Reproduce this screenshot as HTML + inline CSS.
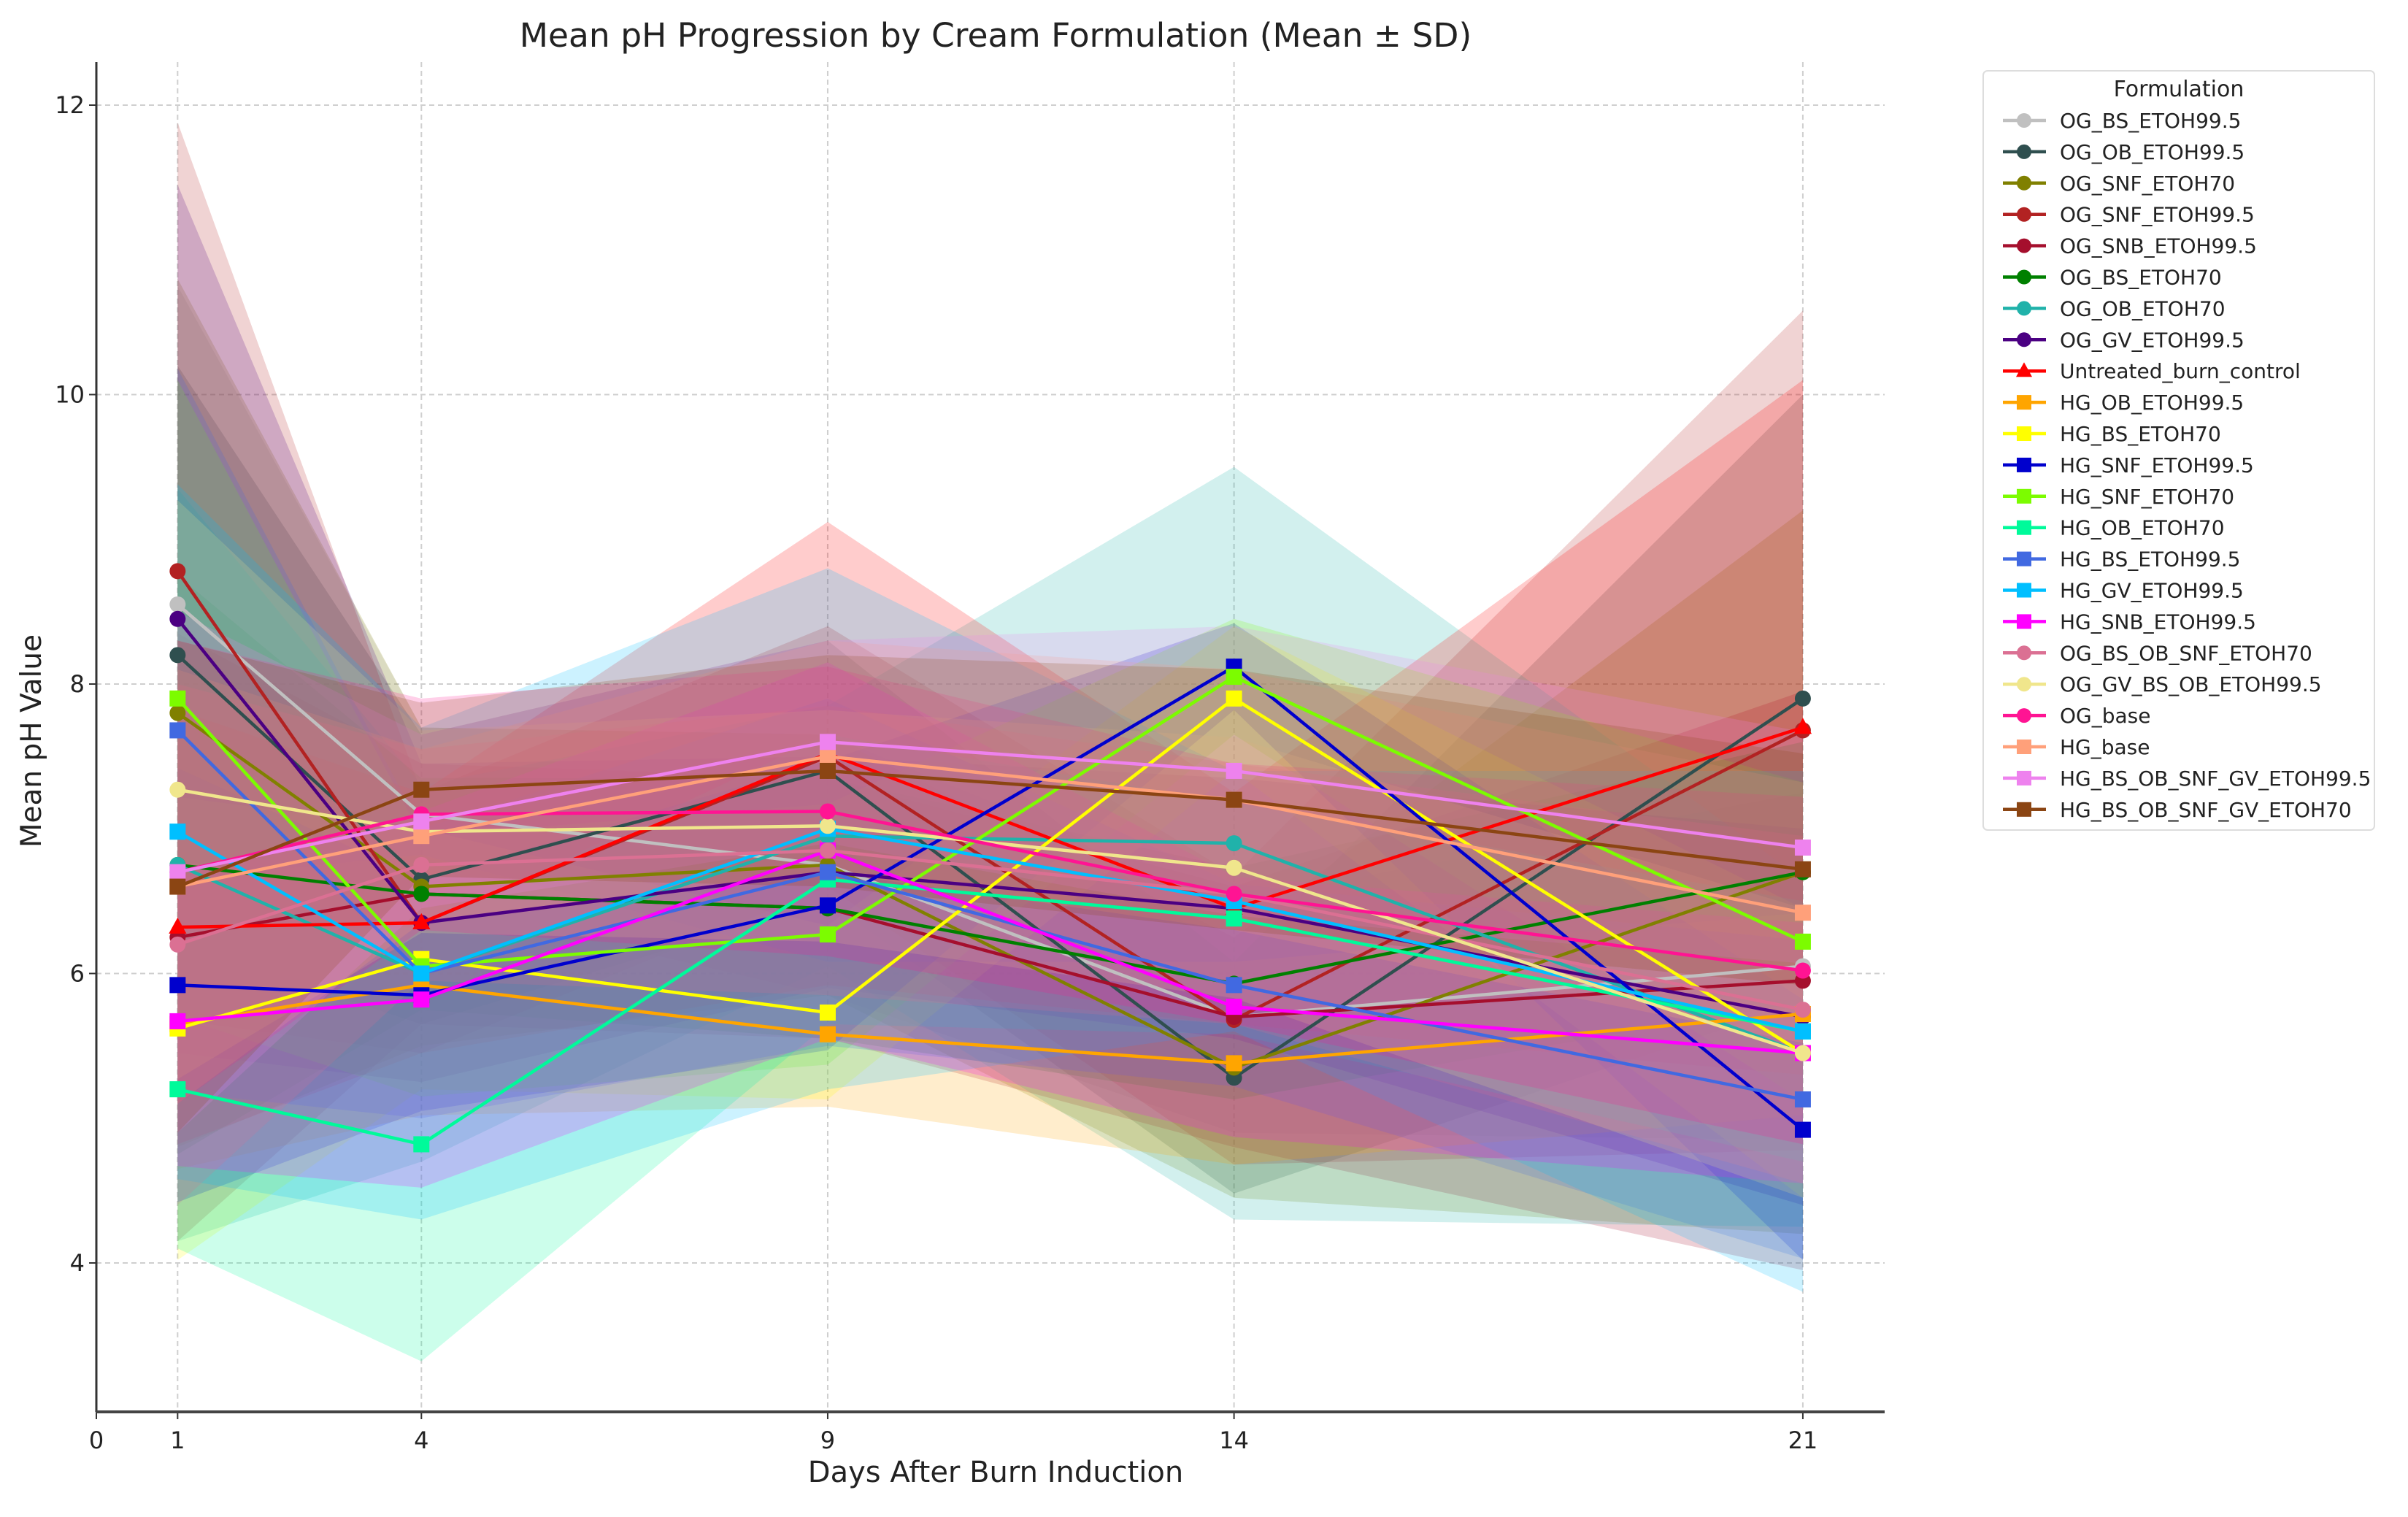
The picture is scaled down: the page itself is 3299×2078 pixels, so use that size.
<!DOCTYPE html>
<html><head><meta charset="utf-8">
<style>
html,body{margin:0;padding:0;background:#fff;}
svg{display:block;font-family:"DejaVu Sans","Liberation Sans",sans-serif;}
</style></head>
<body>
<svg id="chart" width="3299" height="2078" viewBox="0 0 3299 2078" xmlns="http://www.w3.org/2000/svg">
<rect width="3299" height="2078" fill="#fff"/>
<g id="grid"></g>
<g id="bands"></g>
<g id="lines"></g>
<g id="axes"></g>
<g id="legend"></g>
<text x="1364" y="64" font-size="45.5" text-anchor="middle" fill="#222">Mean pH Progression by Cream Formulation (Mean ± SD)</text>
<text x="1364" y="2030" font-size="40" text-anchor="middle" fill="#222">Days After Burn Induction</text>
<text x="0" y="0" font-size="39" text-anchor="middle" fill="#222" transform="translate(56,1015) rotate(-90)">Mean pH Value</text>
</svg>
<script>
const days = [1, 4, 9, 14, 21];
const xTicks = [0, 1, 4, 9, 14, 21];
const yTicks = [4, 6, 8, 10, 12];
const names = ["OG_BS_ETOH99.5","OG_OB_ETOH99.5","OG_SNF_ETOH70","OG_SNF_ETOH99.5","OG_SNB_ETOH99.5","OG_BS_ETOH70","OG_OB_ETOH70","OG_GV_ETOH99.5","Untreated_burn_control","HG_OB_ETOH99.5","HG_BS_ETOH70","HG_SNF_ETOH99.5","HG_SNF_ETOH70","HG_OB_ETOH70","HG_BS_ETOH99.5","HG_GV_ETOH99.5","HG_SNB_ETOH99.5","OG_BS_OB_SNF_ETOH70","OG_GV_BS_OB_ETOH99.5","OG_base","HG_base","HG_BS_OB_SNF_GV_ETOH99.5","HG_BS_OB_SNF_GV_ETOH70"];
const colors = ["#c0c0c0","#2f4f4f","#808000","#b22222","#a50f2d","#008000","#20b2aa","#4b0082","#ff0000","#ffa500","#ffff00","#0000cd","#7cfc00","#00fa9a","#4169e1","#00bfff","#ff00ff","#db7093","#f0e68c","#ff1493","#ffa07a","#ee82ee","#8b4513"];
const markers = ["o","o","o","o","o","o","o","o","^","s","s","s","s","s","s","s","s","o","o","o","s","s","s"];
const means = [
 [8.55,7.10,6.75,5.70,6.05],
 [8.20,6.65,7.40,5.28,7.90],
 [7.80,6.60,6.75,5.35,6.70],
 [8.78,6.35,7.50,5.68,7.68],
 [6.25,6.55,6.45,5.70,5.95],
 [6.75,6.55,6.45,5.93,6.70],
 [6.75,6.00,6.95,6.90,5.45],
 [8.45,6.35,6.70,6.45,5.70],
 [6.32,6.35,7.52,6.45,7.70],
 [5.65,5.92,5.58,5.38,5.72],
 [5.62,6.10,5.73,7.90,5.45],
 [5.92,5.85,6.47,8.12,4.92],
 [7.90,6.05,6.27,8.05,6.22],
 [5.20,4.82,6.65,6.38,5.60],
 [7.68,6.00,6.70,5.92,5.13],
 [6.98,6.00,7.00,6.50,5.60],
 [5.67,5.82,6.85,5.77,5.45],
 [6.20,6.75,6.85,6.55,5.75],
 [7.27,6.98,7.02,6.73,5.45],
 [6.70,7.10,7.12,6.55,6.02],
 [6.60,6.95,7.50,7.20,6.42],
 [6.70,7.05,7.60,7.40,6.87],
 [6.60,7.27,7.40,7.20,6.72]
];
const sds = [
 [2.2,0.6,0.9,0.8,1.2],
 [2.0,1.0,0.9,0.8,2.1],
 [3.0,1.1,0.9,0.9,2.5],
 [3.1,0.9,0.9,1.0,2.9],
 [2.1,0.9,0.9,0.9,2.0],
 [2.0,0.8,0.9,0.8,0.9],
 [2.6,1.3,0.9,2.6,1.2],
 [3.0,1.1,0.8,0.9,1.3],
 [1.5,0.9,1.6,0.8,2.4],
 [1.0,0.9,0.5,0.7,0.7],
 [1.6,0.9,0.6,0.5,1.0],
 [1.5,0.8,1.0,0.3,0.9],
 [2.2,0.9,0.9,0.4,1.1],
 [1.1,1.5,1.0,0.8,0.9],
 [2.5,1.0,1.2,0.7,1.1],
 [2.4,1.7,1.8,0.9,1.8],
 [1.0,1.3,1.3,0.9,0.9],
 [1.8,0.8,1.0,0.9,1.2],
 [2.0,0.7,0.8,0.9,1.0],
 [1.6,0.8,1.0,0.9,1.2],
 [1.5,0.6,0.8,0.9,0.9],
 [1.8,0.6,0.7,1.0,0.8],
 [1.7,0.6,0.8,0.9,0.8]
];
const NS = "http://www.w3.org/2000/svg";
const X0 = 132, XPD = 111.33, Y12 = 144, YPU = 198.25;
const xPos = d => X0 + d * XPD;
const yPos = v => Y12 + (12 - v) * YPU;
const L = 132, R = 2582, T = 85, B = 1934;
function mk(tag, attrs, parent){const e=document.createElementNS(NS,tag);for(const k in attrs)e.setAttribute(k,attrs[k]);parent.appendChild(e);return e;}
const grid=document.getElementById('grid'), bands=document.getElementById('bands'), lines=document.getElementById('lines'), axes=document.getElementById('axes'), legend=document.getElementById('legend');
xTicks.forEach(d=>{
  const x=xPos(d);
  if(d>0){const g=mk('line',{x1:x,x2:x,y1:T,y2:B,stroke:'#cfcfcf','stroke-width':2,'stroke-dasharray':'7,5'},grid);
  
  }
  const tk=mk('line',{x1:x,x2:x,y1:B,y2:B+10,stroke:'#333','stroke-width':2},axes);
  
  
  const t=mk('text',{x:x,y:B+50,'font-size':32,'text-anchor':'middle',fill:'#222'},axes);t.textContent=d;
  
  
});
yTicks.forEach(v=>{
  const y=yPos(v);
  const g=mk('line',{x1:L,x2:R,y1:y,y2:y,stroke:'#cfcfcf','stroke-width':2,'stroke-dasharray':'7,5'},grid);
  
  
  const tk=mk('line',{x1:L-10,x2:L,y1:y,y2:y,stroke:'#333','stroke-width':2},axes);
  
  
  const t=mk('text',{x:L-16,y:y+11,'font-size':32,'text-anchor':'end',fill:'#222'},axes);t.textContent=v;
  
  
});
const ax1=mk('line',{x1:L,x2:L,y1:T,y2:B,stroke:'#333','stroke-width':3},axes);


const ax2=mk('line',{x1:L,x2:R,y1:B,y2:B,stroke:'#444','stroke-width':4},axes);


function marker(m,x,y,c,parent,r){
  let e;
  if(m==='o') e=mk('circle',{cx:x,cy:y,r:r,fill:c},parent);
  else if(m==='s') e=mk('rect',{x:x-r,y:y-r,width:2*r,height:2*r,fill:c},parent);
  else e=mk('polygon',{points:`${x},${y-r*1.2} ${x-r*1.1},${y+r*0.8} ${x+r*1.1},${y+r*0.8}`,fill:c},parent);
  return e;
}
names.forEach((n,i)=>{
  const c=colors[i];
  const up=days.map((d,j)=>`${xPos(d)},${yPos(means[i][j]+sds[i][j])}`);
  const lo=days.map((d,j)=>`${xPos(d)},${yPos(means[i][j]-sds[i][j])}`).reverse();
  const b=mk('polygon',{points:up.concat(lo).join(' '),fill:c,'fill-opacity':0.2},bands);
  
  
});
names.forEach((n,i)=>{
  const c=colors[i];
  const g=mk('g',{},lines);
  
  
  const pl=mk('polyline',{points:days.map((d,j)=>`${xPos(d)},${yPos(means[i][j])}`).join(' '),fill:'none',stroke:c,'stroke-width':4.5,'stroke-linejoin':'round'},g);
  
  
  days.forEach((d,j)=>{
    const m=marker(markers[i],xPos(d),yPos(means[i][j]),c,g,11);
    
    
  });
});
const LX=2717, LY=97, LW=536, LH=1040;
const box=mk('rect',{x:LX,y:LY,width:LW,height:LH,rx:6,fill:'#fff','fill-opacity':0.85,stroke:'#ddd','stroke-width':2},legend);


const lt=mk('text',{x:LX+LW/2,y:132,'font-size':30,'text-anchor':'middle',fill:'#222'},legend);lt.textContent='Formulation';


names.forEach((n,i)=>{
  const cy=165+i*42.9;
  const g=mk('g',{},legend);
  
  
  mk('line',{x1:2744,x2:2803,y1:cy,y2:cy,stroke:colors[i],'stroke-width':4.5},g);
  marker(markers[i],2773,cy,colors[i],g,10);
  const t=mk('text',{x:2822,y:cy+10,'font-size':28,fill:'#222'},g);t.textContent=n;
});
</script>
</body></html>
